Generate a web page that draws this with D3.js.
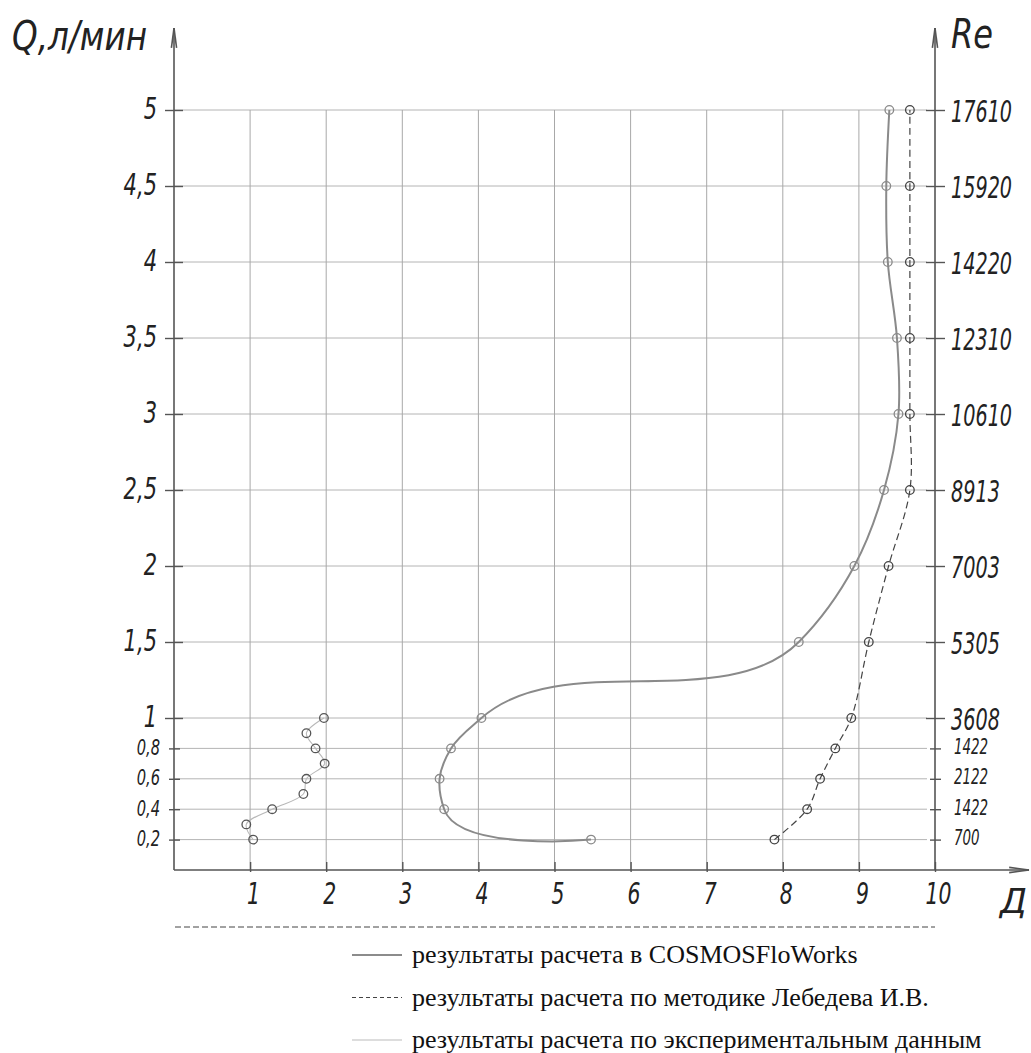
<!DOCTYPE html>
<html>
<head>
<meta charset="utf-8">
<script src="https://cdn.jsdelivr.net/npm/d3@7"></script>
<style>
  body { margin: 0; background: #fff; }
  .gost { font-family: 'DejaVu Sans', sans-serif; font-weight: 200; font-style: italic; fill: #222; }
  .legend text { font-family: 'Liberation Serif', 'Times New Roman', serif; font-size: 26px; fill: #111; }
</style>
</head>
<body>
<div id="chart-area"></div>
<script>

// ---- DATA ----

var qValues = [0.2, 0.4, 0.6, 0.8, 1, 1.5, 2, 2.5, 3, 3.5, 4, 4.5, 5];
var cosmosD = [5.48, 3.55, 3.49, 3.64, 4.04, 8.21, 8.94, 9.33, 9.52, 9.50, 9.38, 9.36, 9.40];
var lebedevD = [7.89, 8.32, 8.49, 8.69, 8.90, 9.13, 9.39, 9.67, 9.67, 9.67, 9.67, 9.67, 9.67];

var expQ = [0.2, 0.3, 0.4, 0.5, 0.6, 0.7, 0.8, 0.9, 1.0];
var expD = [1.04, 0.95, 1.29, 1.70, 1.74, 1.98, 1.86, 1.74, 1.97];

var qTicks = [0.2, 0.4, 0.6, 0.8, 1, 1.5, 2, 2.5, 3, 3.5, 4, 4.5, 5];
var reLabels = ["700", "1422", "2122", "1422", "3608", "5305", "7003", "8913", "10610", "12310", "14220", "15920", "17610"];
var dTicks = [1, 2, 3, 4, 5, 6, 7, 8, 9, 10];

var legendLabels = [
    "результаты расчета в COSMOSFloWorks",
    "результаты расчета по методике Лебедева И.В.",
    "результаты расчета по экспериментальным данным"
];


// ---- CHART AREA ----

var width = 1031, height = 1053;

var svg = d3.select("#chart-area").append("svg")
    .attr("width", width)
    .attr("height", height);

svg.append("rect").attr("width", width).attr("height", height).attr("fill", "#fff");

// x: Д, y: Q (scale is stretched below 1 л/мин)
var x = d3.scaleLinear().domain([0, 10]).range([174, 935]);
var y = d3.scaleLinear().domain([0, 1, 5]).range([870, 718, 110]);

function isMinor(q) { return q < 1; }
function commaFormat(v) { return String(v).replace(".", ","); }

// narrow drawing-style lettering: squeeze the glyphs horizontally around the anchor
function squeeze(sel, ratio) {
    sel.each(function() {
        var t = d3.select(this);
        var tx = +t.attr("x") || 0, ty = +t.attr("y") || 0;
        t.attr("x", 0).attr("y", 0)
            .attr("transform", "translate(" + tx + "," + ty + ") scale(" + ratio + ",1)");
    });
}


// ---- GRID ----

var grid = svg.append("g").attr("class", "grid");

grid.selectAll(".hgrid")
    .data(qTicks)
    .enter().append("line")
    .attr("x1", x(0))
    .attr("x2", x(10) - 8)
    .attr("y1", function(d) { return y(d); })
    .attr("y2", function(d) { return y(d); })
    .attr("stroke", "#b4b4b4")
    .attr("stroke-width", 1);

grid.selectAll(".vgrid")
    .data(dTicks.slice(0, 9))
    .enter().append("line")
    .attr("x1", function(d) { return x(d); })
    .attr("x2", function(d) { return x(d); })
    .attr("y1", y(5))
    .attr("y2", y(0))
    .attr("stroke", "#a8a8a8")
    .attr("stroke-width", 1);


// ---- AXES ----

var axisColor = "#555";

var yAxisLeft = d3.axisLeft(y).tickValues(qTicks).tickFormat(commaFormat).tickSizeOuter(0);
var yAxisRight = d3.axisRight(y).tickValues(qTicks)
    .tickFormat(function(d, i) { return reLabels[i]; }).tickSizeOuter(0);
var xAxis = d3.axisBottom(x).tickValues(dTicks).tickSizeOuter(0);

var leftG = svg.append("g").attr("transform", "translate(" + x(0) + ",0)").call(yAxisLeft);
var rightG = svg.append("g").attr("transform", "translate(" + x(10) + ",0)").call(yAxisRight);
var bottomG = svg.append("g").attr("transform", "translate(0," + y(0) + ")").call(xAxis);

[leftG, rightG, bottomG].forEach(function(g) {
    g.select(".domain").remove();
    g.attr("font-family", null).attr("font-size", null);
    g.selectAll(".tick line").attr("stroke", axisColor).attr("stroke-width", 1.4);
    g.selectAll(".tick text").attr("class", "gost").attr("fill", null);
});

// left ticks cross the axis for the main values
leftG.selectAll(".tick line")
    .attr("x1", function(d) { return isMinor(d) ? -5 : -9; })
    .attr("x2", function(d) { return isMinor(d) ? 6 : 9; });
leftG.selectAll(".tick text")
    .attr("x", function(d) { return isMinor(d) ? -14 : -17; })
    .attr("dy", null)
    .attr("y", function(d) { return isMinor(d) ? 6 : 8; })
    .style("font-size", function(d) { return isMinor(d) ? "21px" : "30px"; });

rightG.selectAll(".tick line")
    .attr("x1", function(d) { return isMinor(d) ? -5 : -9; })
    .attr("x2", function(d) { return isMinor(d) ? 6 : 10; });
rightG.selectAll(".tick text")
    .attr("x", function(d) { return isMinor(d) ? 19 : 16; })
    .attr("dy", null)
    .attr("y", function(d) { return isMinor(d) ? 5 : 11; })
    .style("font-size", function(d) { return isMinor(d) ? "21px" : "30px"; });

bottomG.selectAll(".tick line").attr("y1", -8).attr("y2", 2);
bottomG.selectAll(".tick text")
    .attr("x", 3)
    .attr("dy", null)
    .attr("y", 34)
    .style("font-size", "30px");

squeeze(leftG.selectAll(".tick text"), 0.7);
squeeze(rightG.selectAll(".tick text"), 0.64);
squeeze(bottomG.selectAll(".tick text"), 0.68);

// axis lines with open arrow heads
function arrowLine(x1, y1, x2, y2) {
    var g = svg.append("g").attr("stroke", axisColor).attr("stroke-width", 1.6).attr("fill", "none");
    g.append("line").attr("x1", x1).attr("y1", y1).attr("x2", x2).attr("y2", y2);
    var ang = Math.atan2(y2 - y1, x2 - x1), len = 20, spread = 0.13;
    [-spread, spread].forEach(function(s) {
        g.append("line")
            .attr("x1", x2).attr("y1", y2)
            .attr("x2", x2 - len * Math.cos(ang + s))
            .attr("y2", y2 - len * Math.sin(ang + s));
    });
}

arrowLine(x(0), y(0), x(0), 28);
arrowLine(x(10), y(0), x(10), 28);
arrowLine(x(0), y(0), 1029, y(0));


// ---- AXIS TITLES ----

svg.append("text").attr("class", "gost").attr("x", 12).attr("y", 50)
    .style("font-size", "41px").attr("textLength", 135).attr("lengthAdjust", "spacingAndGlyphs")
    .text("Q,л/мин");
svg.append("text").attr("class", "gost").attr("x", 951).attr("y", 48)
    .style("font-size", "41px").attr("textLength", 42).attr("lengthAdjust", "spacingAndGlyphs")
    .text("Re");
svg.append("text").attr("class", "gost").attr("x", 1000).attr("y", 913)
    .style("font-size", "33px").attr("textLength", 27).attr("lengthAdjust", "spacingAndGlyphs")
    .text("Д");


// ---- SERIES ----

function pts(ds, qs) { return ds.map(function(d, i) { return [x(d), y(qs[i])]; }); }

var series = [
    { points: pts(cosmosD, qValues), curve: d3.curveCatmullRom.alpha(1), stroke: "#8a8a8a", width: 2, dash: null, marker: "#8a8a8a" },
    { points: pts(lebedevD, qValues), curve: d3.curveCatmullRom.alpha(0.5), stroke: "#444", width: 1.2, dash: "7,4", marker: "#444" },
    { points: pts(expD, expQ), curve: d3.curveCatmullRom.alpha(0.5), stroke: "#b8b8b8", width: 1.1, dash: null, marker: "#555" }
];

series.forEach(function(s) {
    svg.append("path")
        .attr("d", d3.line().curve(s.curve)(s.points))
        .attr("fill", "none")
        .attr("stroke", s.stroke)
        .attr("stroke-width", s.width)
        .attr("stroke-dasharray", s.dash);

    svg.selectAll(null)
        .data(s.points)
        .enter().append("circle")
        .attr("cx", function(d) { return d[0]; })
        .attr("cy", function(d) { return d[1]; })
        .attr("r", 4.3)
        .attr("fill", "none")
        .attr("stroke", s.marker)
        .attr("stroke-width", 1.3);
});


// ---- LEGEND ----

svg.append("line")
    .attr("x1", 175).attr("x2", 935)
    .attr("y1", 927).attr("y2", 927)
    .attr("stroke", "#444").attr("stroke-width", 1).attr("stroke-dasharray", "6,3");

var legend = svg.append("g").attr("class", "legend");
var legendStyles = [
    { stroke: "#666", width: 1.6, dash: null },
    { stroke: "#444", width: 1.1, dash: "4,3" },
    { stroke: "#bbb", width: 1.1, dash: null }
];

legendLabels.forEach(function(label, i) {
    var ly = 955 + i * 42.5;
    legend.append("line")
        .attr("x1", 352).attr("x2", 402)
        .attr("y1", ly).attr("y2", ly)
        .attr("stroke", legendStyles[i].stroke)
        .attr("stroke-width", legendStyles[i].width)
        .attr("stroke-dasharray", legendStyles[i].dash);
    legend.append("text")
        .attr("x", 412).attr("y", ly + 8)
        .text(label);
});

</script>
</body>
</html>
